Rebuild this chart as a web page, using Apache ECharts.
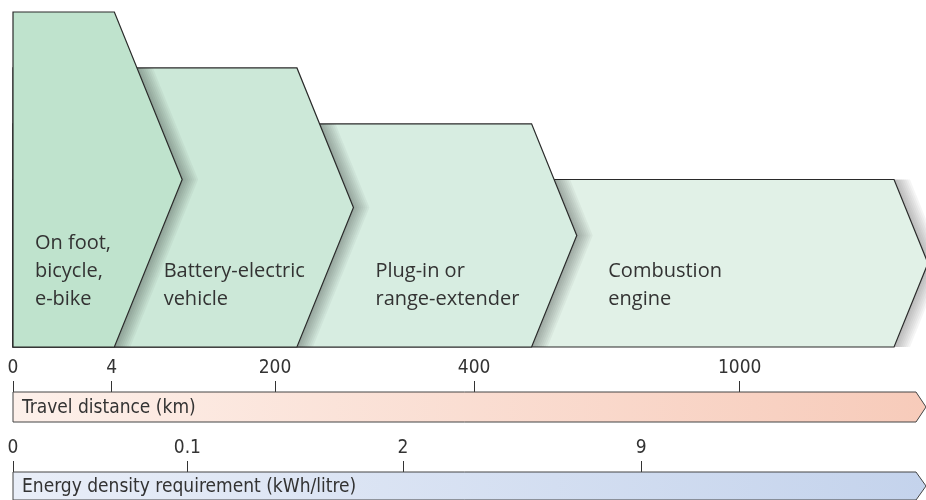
<!DOCTYPE html>
<html>
<head>
<meta charset="utf-8">
<script src="https://cdn.jsdelivr.net/npm/echarts@6/dist/echarts.min.js"></script>
<style>
  html, body { margin: 0; padding: 0; background: #fff; }
  #main { width: 926px; height: 500px; }
</style>
</head>
<body>
<div id="main"></div>
<script>
// stages of the diagram, front to back
const stages = ['On foot,\nbicycle,\ne-bike', 'Battery-electric\nvehicle', 'Plug-in or\nrange-extender', 'Combustion\nengine']
const stageEnd = [11.1, 31.1, 56.8, 96.5]      // where each body ends (0-100 scale)
const stageHeight = [100, 83.3, 66.6, 50]       // relative height of each chevron
// scales under the chevrons
const distancePos = [0, 10.8, 28.7, 50.5, 79.6]
const distanceLabels = ['0', '4', '200', '400', '1000']
const energyPos = [0, 19.1, 42.7, 68.8]
const energyLabels = ['0', '0.1', '2', '9']
const barTitles = ['Travel distance (km)', 'Energy density requirement (kWh/litre)']

// layout / style
const labelAt = [2.4, 16.5, 39.7, 65.2]
const stageFill = ['#bfe3cd', '#cce8d8', '#d7ede1', '#e1f1e7']
const slope = 0.405
const textFont = '"Open Sans", "Noto Sans", sans-serif'
const condFont = '"DejaVu Sans Condensed", "Liberation Sans Narrow", sans-serif'

const chart = echarts.init(document.getElementById('main'))

function edgeX(endX, topY, bottomY, y) {
  const mid = (topY + bottomY) / 2
  return y < mid ? endX + slope * (y - topY) : endX + slope * (bottomY - y)
}

function renderStage(params, api) {
  const i = params.dataIndex
  const base = api.coord([0, 0])
  const corner = api.coord([api.value(0), api.value(1)])
  const x0 = base[0], yb = base[1], xe = corner[0], yt = corner[1]
  const ym = (yt + yb) / 2
  const tip = xe + slope * (yb - yt) / 2
  const children = []
  // shadow on whatever lies behind the arrow side
  const sTop = i < stageHeight.length - 1 ? api.coord([0, stageHeight[i + 1]])[1] : yt
  const sx = edgeX(xe, yt, yb, sTop)
  for (let k = 1; k <= 8; k++) {
    const w = k * 2
    children.push({
      type: 'polygon',
      z2: 9 - i * 2,
      shape: { points: [[sx, sTop], [tip, ym], [xe, yb], [xe + w, yb], [tip + w, ym], [sx + w, sTop]] },
      style: { fill: 'rgba(0,0,0,0.04)' },
    })
  }
  children.push({
    type: 'polygon',
    z2: 10 - i * 2,
    shape: { points: [[x0, yt], [xe, yt], [tip, ym], [xe, yb], [x0, yb]] },
    style: { fill: stageFill[i], stroke: '#2a2a2a', lineWidth: 1.2 },
  })
  const lx = api.coord([labelAt[i], 0])[0]
  children.push({
    type: 'text',
    z2: 10 - i * 2,
    x: lx,
    y: yb - 34,
    style: {
      text: stages[i],
      fill: '#333',
      fontSize: 20,
      fontFamily: textFont,
      lineHeight: 28,
      verticalAlign: 'bottom',
      align: 'left',
    },
  })
  return { type: 'group', children }
}

function barRenderer(title, colors) {
  return function (params, api) {
    const p0 = api.coord([api.value(0), 1])
    const p1 = api.coord([api.value(1), 0])
    const ym = (p0[1] + p1[1]) / 2
    const body = p1[0] - 10
    return {
      type: 'group',
      children: [
        {
          type: 'polygon',
          shape: { points: [[p0[0], p0[1]], [body, p0[1]], [p1[0], ym], [body, p1[1]], [p0[0], p1[1]]] },
          style: {
            fill: new echarts.graphic.LinearGradient(0, 0, 1, 0, [
              { offset: 0, color: colors[0] },
              { offset: 1, color: colors[1] },
            ]),
            stroke: '#444',
            lineWidth: 1,
          },
        },
        {
          type: 'text',
          x: p0[0] + 9,
          y: ym + 1,
          style: { text: title, fill: '#333', fontSize: 19, fontFamily: condFont, verticalAlign: 'middle' },
        },
      ],
    }
  }
}

function scaleAxis(gridIndex, pos, labels) {
  return {
    gridIndex,
    type: 'value',
    position: 'top',
    min: 0,
    max: 100,
    splitLine: { show: false },
    axisLine: { show: false, onZero: false },
    axisTick: { show: true, customValues: pos, length: 11, lineStyle: { color: '#333', width: 1 } },
    axisLabel: {
      customValues: pos,
      showMinLabel: true,
      showMaxLabel: true,
      margin: 14,
      color: '#333',
      fontSize: 19,
      fontFamily: condFont,
      formatter: (v) => labels[pos.indexOf(v)],
    },
  }
}

const hiddenY = (gridIndex, max) => ({
  gridIndex, type: 'value', min: 0, max, show: false,
})

const option = {
  animation: false,
  grid: [
    { left: 13, right: 0, top: 12, height: 335 },
    { left: 13, right: 0, top: 392, height: 30 },
    { left: 13, right: 0, top: 472, height: 30 },
  ],
  xAxis: [
    { gridIndex: 0, type: 'value', min: 0, max: 100, show: false },
    scaleAxis(1, distancePos, distanceLabels),
    scaleAxis(2, energyPos, energyLabels),
  ],
  yAxis: [hiddenY(0, 100), hiddenY(1, 1), hiddenY(2, 1)],
  series: [
    {
      type: 'custom',
      xAxisIndex: 0,
      yAxisIndex: 0,
      renderItem: renderStage,
      data: stageEnd.map((e, i) => [e, stageHeight[i]]),
    },
    {
      type: 'custom',
      xAxisIndex: 1,
      yAxisIndex: 1,
      renderItem: barRenderer(barTitles[0], ['#fdf0ea', '#f7cbba']),
      data: [[0, 100]],
    },
    {
      type: 'custom',
      xAxisIndex: 2,
      yAxisIndex: 2,
      renderItem: barRenderer(barTitles[1], ['#e9eef8', '#c4d3ec']),
      data: [[0, 100]],
    },
  ],
}

chart.setOption(option)
</script>
</body>
</html>
